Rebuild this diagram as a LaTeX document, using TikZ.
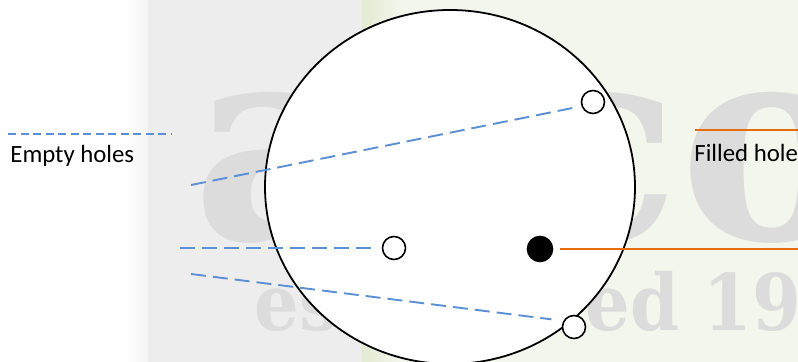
\documentclass[tikz,border=0pt]{standalone}
\usepackage{fontspec}
\setmainfont{Carlito}
\newfontfamily\markfont{DejaVu Serif}
\usetikzlibrary{shapes.geometric}

\definecolor{holeblue}{HTML}{5B8FD6}
\definecolor{holeorange}{HTML}{E46C0A}
\definecolor{bandgray}{HTML}{EDEDED}
\definecolor{leafgreen}{HTML}{F3F6EC}
\definecolor{edgegreen}{HTML}{E3EBD2}
\definecolor{markgray}{HTML}{DCDCDC}

\begin{document}
\begin{tikzpicture}[
    x=0.5pt, y=-0.5pt,
    plate/.style={draw, ellipse, line width=0.9pt, fill=white,
      minimum width=185pt, minimum height=177pt, inner sep=0pt},
    hole/.style={draw, circle, line width=0.8pt, fill=white,
      minimum size=11.5pt, inner sep=0pt},
    filledhole/.style={hole, fill=black, minimum size=12.5pt},
    emptyline/.style={holeblue, line width=0.95pt, dash pattern=on 7.5pt off 3.5pt},
    emptykey/.style={holeblue, line width=0.6pt, dash pattern=on 4pt off 2.25pt},
    filledline/.style={holeorange, line width=0.8pt},
    holetext/.style={font=\fontsize{12.4}{15}\selectfont, anchor=base west, inner sep=0pt},
    bigmark/.style={text=markgray, font=\markfont\bfseries\fontsize{138}{140}\selectfont,
      anchor=base west, inner sep=0pt},
    smallmark/.style={text=markgray, font=\markfont\bfseries\fontsize{39}{42}\selectfont,
      anchor=base west, inner sep=0pt, xscale=0.9, transform shape}
  ]
  \useasboundingbox (0,0) rectangle (798,362);
  % background
  \fill[white] (0,0) rectangle (798,362);
  \shade[left color=white, right color=bandgray!60] (125,0) rectangle (148,362);
  \fill[bandgray] (148,0) rectangle (362,362);
  \fill[leafgreen] (362,0) rectangle (798,362);
  \shade[left color=edgegreen, right color=leafgreen] (362,0) rectangle (400,362);

  % watermark
  \node[bigmark] (markA) at (192,240) {a};
  \node[bigmark] (markCO) at (511,240) {co};
  \node[smallmark] (markES) at (254,331) {es};
  \node[smallmark] (markED) at (585,331) {ed 19};

  % plate and holes
  \node[plate] (plate) at (450,187) {};
  \node[hole] (topHole) at (593,102) {};
  \node[hole] (midHole) at (394,248) {};
  \node[hole] (lowHole) at (574,327) {};
  \node[filledhole] (fillHole) at (540,249) {};

  % key
  \coordinate (emptyKeyA) at (8,134);
  \coordinate (emptyKeyB) at (171,134);
  \draw[emptykey] (emptyKeyA) -- (emptyKeyB);
  \node[holetext] (emptyText) at (10,163) {Empty holes};
  \coordinate (filledKeyA) at (695,130);
  \coordinate (filledKeyB) at (798,130);
  \draw[filledline] (filledKeyA) -- (filledKeyB);
  \node[holetext] (filledText) at (694,162) {Filled hole};

  % leaders
  \coordinate (topStart) at (191,185);
  \coordinate (midStart) at (180,248);
  \coordinate (lowStart) at (191,274);
  \coordinate (fillEnd) at (798,249);
  \draw[emptyline, shorten >=4.5pt] (topStart) -- (topHole.200);
  \draw[emptyline, shorten >=4.5pt] (midStart) -- (midHole);
  \draw[emptyline, shorten >=6pt] (lowStart) -- (lowHole.150);
  \draw[filledline, shorten <=3.5pt] (fillHole) -- (fillEnd);
\end{tikzpicture}
\end{document}
